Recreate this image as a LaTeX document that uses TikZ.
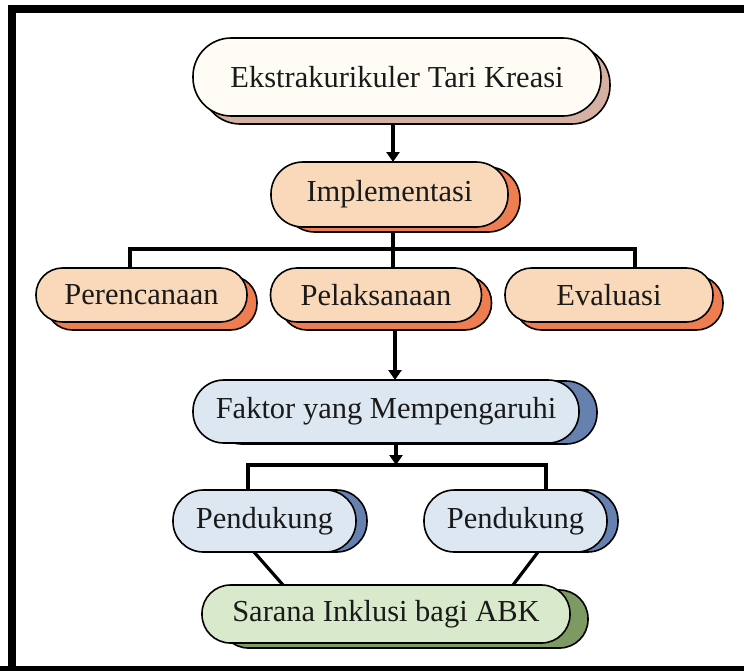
\documentclass[tikz,border=0pt]{standalone}
\usepackage{fontspec}
\setmainfont{Liberation Serif}
\usetikzlibrary{arrows.meta,backgrounds}
\definecolor{creamfill}{HTML}{FFFCF5}
\definecolor{creamshadow}{HTML}{D5B0A3}
\definecolor{orangefill}{HTML}{F9D9BA}
\definecolor{orangeshadow}{HTML}{EE7D52}
\definecolor{bluefill}{HTML}{DCE7F1}
\definecolor{blueshadow}{HTML}{6681B0}
\definecolor{greenfill}{HTML}{D9E9CB}
\definecolor{greenshadow}{HTML}{7D9A63}
\definecolor{inkcol}{HTML}{1A1A1A}
\tikzset{
  pill/.style={draw=black, line width=1.6pt, rectangle, inner sep=0pt, outer sep=0pt,
    text=inkcol, font=\fontsize{30.5}{34}\selectfont},
  conn/.style={draw=black, line width=3.2pt},
  arrowconn/.style={conn, -{Triangle[length=10pt,width=13pt]}},
  frameline/.style={draw=black, line width=8pt}
}
% name, (cx,cy), w, h, fill, shadow, dx, dy, text
\newcommand{\pillbox}[9]{%
  \pgfmathsetmacro\pillrad{0.49*#4}%
  \node[pill, minimum width=#3pt, minimum height=#4pt, rounded corners=\pillrad pt,
        fill=#6, xshift=#7pt, yshift=-#8pt] (#1-sh) at #2 {};
  \node[pill, minimum width=#3pt, minimum height=#4pt, rounded corners=\pillrad pt,
        fill=#5] (#1) at #2 {#9};
}
\begin{document}
\begin{tikzpicture}[x=1pt,y=-1pt]
\useasboundingbox (0,0) rectangle (744,670);
\begin{scope}
  \clip (0,0) rectangle (744,670);
  \draw[frameline] (12,680) -- (12,9) -- (760,9);
  \draw[frameline] (-10,670) -- (760,670);
\end{scope}

\pillbox{top}{(397,77)}{408}{78}{creamfill}{creamshadow}{9}{8}{Ekstrakurikuler Tari Kreasi}
\pillbox{impl}{(389.5,194.5)}{237}{65}{orangefill}{orangeshadow}{12}{5}{Implementasi}
\pillbox{pere}{(141.5,295)}{211}{54}{orangefill}{orangeshadow}{10}{8}{Perencanaan}
\pillbox{pela}{(376,295)}{211}{54}{orangefill}{orangeshadow}{10}{8}{Pelaksanaan}
\pillbox{eval}{(609,295)}{208}{54}{orangefill}{orangeshadow}{10}{8}{Evaluasi}
\pillbox{fak}{(386,411.5)}{386}{63}{bluefill}{blueshadow}{18}{1}{Faktor yang Mempengaruhi}
\pillbox{pendL}{(264.5,521)}{183}{62}{bluefill}{blueshadow}{11}{0}{Pendukung}
\pillbox{pendR}{(515.5,521)}{183}{62}{bluefill}{blueshadow}{11}{0}{Pendukung}
\pillbox{sar}{(386,614)}{368}{58}{greenfill}{greenshadow}{18}{5}{Sarana Inklusi bagi ABK}

\coordinate (a1) at (393,0);
\coordinate (b1) at (130,249);
\coordinate (b2) at (635,249);
\coordinate (a2) at (395,0);
\coordinate (c0) at (396,465);
\coordinate (cL) at (248,465);
\coordinate (cR) at (546,465);
\coordinate (dL1) at (254,0);
\coordinate (dL2) at (283,0);
\coordinate (dR1) at (538,0);
\coordinate (dR2) at (513,0);

\begin{pgfonlayer}{background}
  \draw[arrowconn] (top-sh.south -| a1) -- (impl.north -| a1);
  \draw[conn] (impl-sh.south -| a1) -- (pela.north -| a1);
  \draw[conn] (pere.north -| b1) -- (b1) -- (b2) -- (eval.north -| b2);
  \draw[arrowconn] (pela-sh.south -| a2) -- (fak.north -| a2);
  \draw[arrowconn] (fak.south -| c0) -- (c0);
  \draw[conn] (pendL.north -| cL) -- (cL) -- (cR) -- (pendR.north -| cR);
  \draw[conn] (pendL.south -| dL1) -- (sar.north -| dL2);
  \draw[conn] (pendR.south -| dR1) -- (sar.north -| dR2);
\end{pgfonlayer}
\end{tikzpicture}
\end{document}
